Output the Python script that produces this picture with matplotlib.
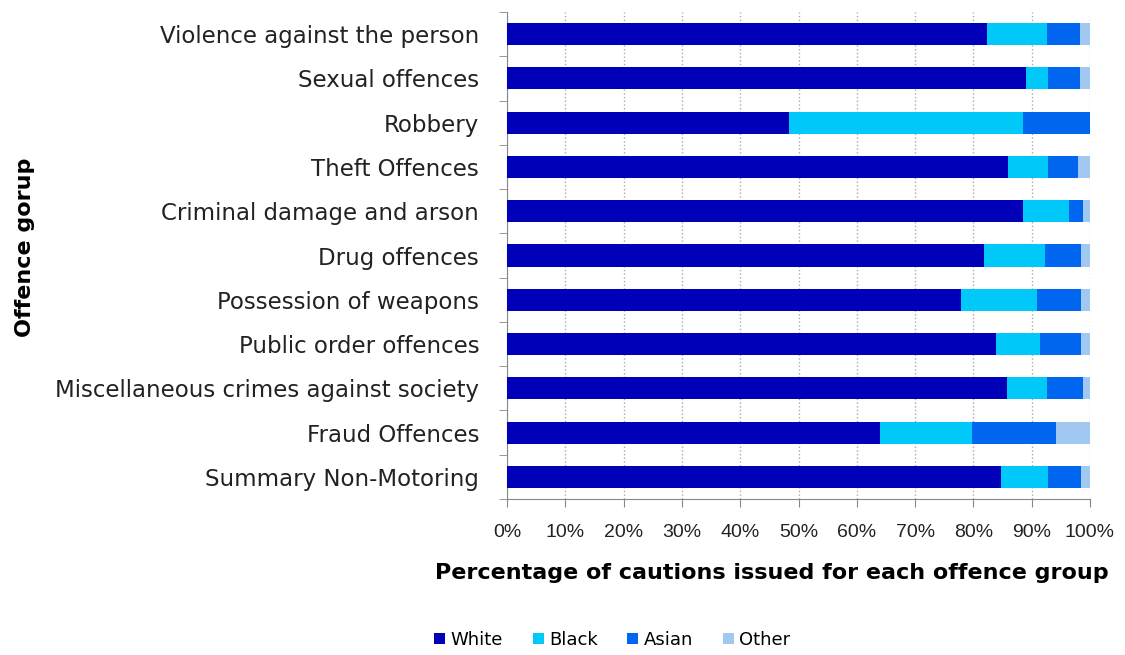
import matplotlib
matplotlib.use("Agg")
import matplotlib.pyplot as plt
import numpy as np

# offence groups, top to bottom
offences = ["Violence against the person", "Sexual offences", "Robbery", "Theft Offences",
            "Criminal damage and arson", "Drug offences", "Possession of weapons",
            "Public order offences", "Miscellaneous crimes against society",
            "Fraud Offences", "Summary Non-Motoring"]

# percentage of cautions by ethnic group
white = [82.3, 89.0, 48.3, 85.9, 88.5, 81.8, 77.8, 83.8, 85.7, 64.0, 84.8]
black = [10.3, 3.8, 40.2, 6.9, 7.9, 10.4, 13.1, 7.6, 7.0, 15.7, 8.0]
asian = [5.7, 5.5, 11.5, 5.2, 2.4, 6.3, 7.6, 7.1, 6.1, 14.5, 5.7]
other = [1.7, 1.7, 0.0, 2.0, 1.2, 1.5, 1.5, 1.5, 1.2, 5.8, 1.5]

groups = ["White", "Black", "Asian", "Other"]
colours = ["#0000B8", "#00C8F8", "#0066F0", "#A0C8F0"]

fig = plt.figure(figsize=(11.25, 6.55), dpi=100)
ax = fig.add_axes([507 / 1125, 1 - 499 / 655, 583 / 1125, 487 / 655])

y = np.arange(len(offences))
left = np.zeros(len(offences))
for name, vals, col in zip(groups, [white, black, asian, other], colours):
    ax.barh(y, vals, left=left, height=0.5, color=col, label=name, zorder=3)
    left += np.array(vals)

ax.set_xlim(0, 100)
ax.set_ylim(len(offences) - 0.5, -0.5)
ax.set_xticks(np.arange(0, 101, 10))
ax.set_xticklabels([f"{v}%" for v in range(0, 101, 10)],
                   family="Liberation Sans", fontsize=14, color="#222222")
ax.set_yticks(y)
ax.set_yticklabels(offences, fontsize=16.5, color="#222222")
ax.tick_params(axis="y", length=0, pad=20)
ax.tick_params(axis="x", length=6, direction="out", color="#888888", pad=12)
# small ticks between categories on the y axis
ax.set_yticks(np.arange(-0.5, len(offences), 1), minor=True)
ax.tick_params(axis="y", which="minor", length=6, color="#888888")

ax.grid(axis="x", linestyle=":", color="#aaaaaa", linewidth=1, zorder=0)
for s in ["top", "right"]:
    ax.spines[s].set_visible(False)
ax.spines["left"].set_color("#888888")
ax.spines["bottom"].set_color("#888888")

fig.text(772 / 1125, 1 - 573 / 655, "Percentage of cautions issued for each offence group",
         fontsize=16, fontweight="bold", ha="center", va="center")
fig.text(25 / 1125, 1 - 247 / 655, "Offence gorup", rotation=90, fontsize=16,
         fontweight="bold", ha="center", va="center")

fig.legend(loc="center left", bbox_to_anchor=(418 / 1125, 1 - 640 / 655), ncol=4, frameon=False,
           fontsize=13, handlelength=0.6, handleheight=0.6, columnspacing=1.65, handletextpad=0.3)

fig.savefig("out.png", dpi=100)
